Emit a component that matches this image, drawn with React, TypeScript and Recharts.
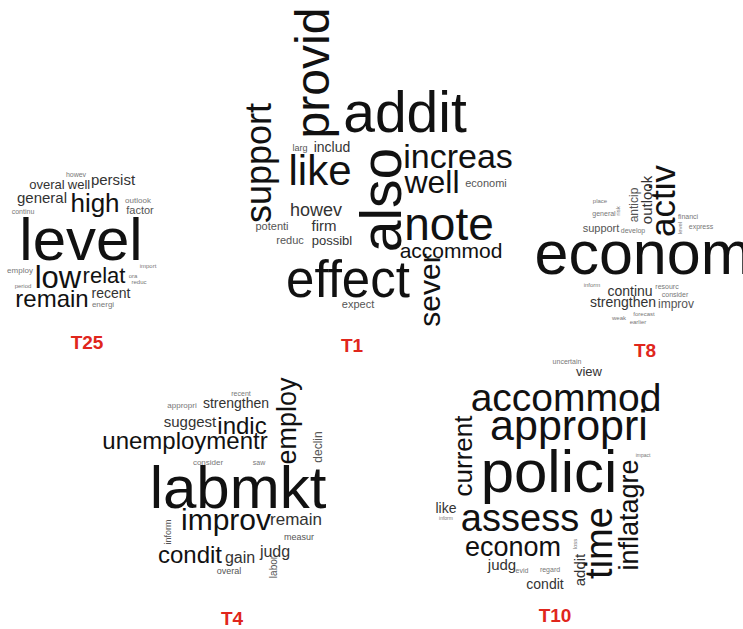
import { ScatterChart, Scatter, XAxis, YAxis } from "recharts";

// each word: [text, x, baseline y (or baseline x when vertical), weight, vertical]
type Word = [string, number, number, number, number];

const t25Words: Word[] = [
  ["howev", 76, 177, 7, 0],
  ["overal", 47, 189, 13, 0],
  ["well", 79, 189, 13, 0],
  ["persist", 113, 185, 15, 0],
  ["general", 42, 203, 15, 0],
  ["high", 95, 212, 26, 0],
  ["outlook", 138, 203, 8, 0],
  ["factor", 140, 214, 11, 0],
  ["continu", 23, 214, 7, 0],
  ["level", 81, 260, 60, 0],
  ["import", 148, 268, 6, 0],
  ["employ", 20, 273, 8, 0],
  ["low", 58, 288, 31, 0],
  ["relat", 104, 283, 22, 0],
  ["ora", 133, 278, 6, 0],
  ["reduc", 139, 284, 6, 0],
  ["period", 23, 288, 6, 0],
  ["remain", 52, 307, 24, 0],
  ["recent", 111, 298, 14, 0],
  ["energi", 103, 307, 8, 0],
];

const t1Words: Word[] = [
  ["provid", 329, 73, 48, 1],
  ["addit", 405, 132, 57, 0],
  ["support", 271, 163, 36, 1],
  ["larg", 300, 151, 9, 0],
  ["includ", 332, 152, 14, 0],
  ["like", 320, 185, 42, 0],
  ["also", 401, 200, 57, 1],
  ["increas", 458, 168, 34, 0],
  ["well", 432, 193, 32, 0],
  ["economi", 486, 187, 11, 0],
  ["howev", 316, 216, 18, 0],
  ["potenti", 272, 230, 11, 0],
  ["firm", 324, 231, 15, 0],
  ["reduc", 290, 244, 11, 0],
  ["possibl", 332, 245, 13, 0],
  ["note", 449, 240, 46, 0],
  ["accommod", 451, 258, 21, 0],
  ["effect", 348, 297, 51, 0],
  ["expect", 358, 308, 11, 0],
  ["sever", 440, 290, 30, 1],
];

const t8Words: Word[] = [
  ["econom", 643, 274, 61, 0],
  ["activ", 675, 201, 35, 1],
  ["outlook", 652, 200, 15, 1],
  ["anticip", 638, 205, 12, 1],
  ["risk", 620, 211, 6, 1],
  ["place", 600, 203, 6, 0],
  ["general", 604, 216, 7, 0],
  ["support", 601, 232, 11, 0],
  ["develop", 633, 233, 7, 0],
  ["financi", 688, 219, 7, 0],
  ["level", 682, 228, 6, 1],
  ["express", 701, 229, 7, 0],
  ["inform", 592, 287, 6, 0],
  ["continu", 630, 296, 14, 0],
  ["resourc", 667, 289, 7, 0],
  ["consider", 675, 297, 7, 0],
  ["strengthen", 623, 307, 14, 0],
  ["improv", 676, 308, 12, 0],
  ["weak", 619, 320, 6, 0],
  ["forecast", 644, 316, 6, 0],
  ["earlier", 638, 324, 6, 0],
];

const t4Words: Word[] = [
  ["recent", 241, 396, 7, 0],
  ["appropri", 182, 408, 8, 0],
  ["strengthen", 236, 408, 14, 0],
  ["employ", 296, 421, 27, 1],
  ["suggest", 190, 427, 15, 0],
  ["indic", 242, 434, 24, 0],
  ["declin", 322, 447, 12, 1],
  ["unemploymentr", 185, 449, 24, 0],
  ["consider", 208, 465, 8, 0],
  ["saw", 259, 465, 7, 0],
  ["labmkt", 238, 508, 60, 0],
  ["inform", 171, 532, 9, 1],
  ["improv", 226, 530, 30, 0],
  ["remain", 296, 525, 17, 0],
  ["measur", 299, 540, 9, 0],
  ["condit", 190, 563, 24, 0],
  ["gain", 240, 563, 16, 0],
  ["judg", 275, 557, 16, 0],
  ["labor", 277, 567, 10, 1],
  ["overal", 229, 574, 9, 0],
];

const t10Words: Word[] = [
  ["uncertain", 567, 364, 7, 0],
  ["view", 589, 376, 13, 0],
  ["accommod", 566, 411, 39, 0],
  ["appropri", 569, 440, 43, 0],
  ["current", 472, 456, 26, 1],
  ["polici", 549, 492, 60, 0],
  ["impact", 643, 457, 5, 0],
  ["inflatagre", 638, 515, 27, 1],
  ["time", 612, 543, 38, 1],
  ["like", 446, 513, 14, 0],
  ["inform", 446, 520, 5, 0],
  ["assess", 520, 531, 38, 0],
  ["econom", 513, 556, 27, 0],
  ["loss", 577, 544, 6, 1],
  ["addit", 585, 570, 15, 1],
  ["judg", 502, 570, 15, 0],
  ["evid", 522, 573, 7, 0],
  ["regard", 550, 572, 7, 0],
  ["condit", 545, 589, 14, 0],
];

const topicLabels = ["T25", "T1", "T8", "T4", "T10"];
const labelX = [87, 352, 645, 232, 555];
const labelY = [349, 352, 357, 625, 622];

const allWords = [...t25Words, ...t1Words, ...t8Words, ...t4Words, ...t10Words].map(
  ([text, x, y, weight, vertical]) => ({ text, x, y, weight, vertical })
);
const labels = topicLabels.map((text, i) => ({ text, x: labelX[i], y: labelY[i] }));

const FONT = "'Liberation Sans', Arial, Helvetica, sans-serif";

function shade(w: number) {
  if (w >= 20) return "#111";
  if (w >= 13) return "#333";
  if (w >= 9) return "#555";
  return "#777";
}

function WordMark(props: any) {
  const { cx, cy, payload } = props;
  return (
    <text
      x={cx}
      y={cy}
      textAnchor="middle"
      fontFamily={FONT}
      fontSize={payload.weight}
      fill={shade(payload.weight)}
      transform={payload.vertical ? `rotate(-90 ${cx} ${cy})` : undefined}
    >
      {payload.text}
    </text>
  );
}

function LabelMark(props: any) {
  const { cx, cy, payload } = props;
  return (
    <text x={cx} y={cy} textAnchor="middle" fontFamily={FONT} fontSize={19} fontWeight="bold" fill="#e0261c">
      {payload.text}
    </text>
  );
}

export default function App() {
  return (
    <div style={{ position: "absolute", left: 0, top: 0, width: 743, height: 629, background: "#fff", overflow: "hidden" }}>
      <ScatterChart width={743} height={629} margin={{ top: 0, right: 0, bottom: 0, left: 0 }}>
        <XAxis type="number" dataKey="x" domain={[0, 743]} hide />
        <YAxis type="number" dataKey="y" domain={[0, 629]} reversed hide />
        <Scatter data={allWords} shape={WordMark} isAnimationActive={false} />
        <Scatter data={labels} shape={LabelMark} isAnimationActive={false} />
      </ScatterChart>
    </div>
  );
}
